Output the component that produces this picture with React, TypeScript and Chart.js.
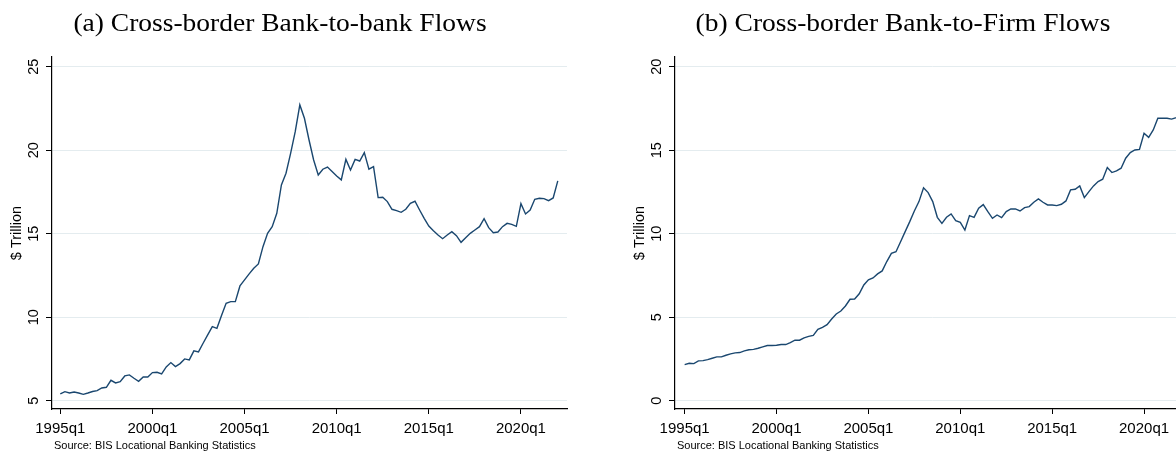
import React, { useEffect, useRef } from "react";
import { Chart, registerables } from "chart.js";

Chart.register(...registerables);

// Quarter categories 1995q1 .. 2022q1
const quarterLabels: string[] = [];
for (let y = 1995; y <= 2022; y++) {
  for (let q = 1; q <= 4; q++) {
    if (y === 2022 && q > 1) break;
    quarterLabels.push(`${y}q${q}`);
  }
}

const xTickLabels = ["1995q1", "2000q1", "2005q1", "2010q1", "2015q1", "2020q1"];

// (a) Cross-border bank-to-bank claims, $ trillion
const bankToBank = [
  5.40, 5.54, 5.46, 5.52, 5.46, 5.38, 5.46, 5.55, 5.60, 5.76,
  5.80, 6.22, 6.06, 6.14, 6.48, 6.54, 6.34, 6.16, 6.42, 6.42,
  6.68, 6.70, 6.60, 7.02, 7.28, 7.04, 7.22, 7.50, 7.44, 7.98,
  7.92, 8.44, 8.94, 9.43, 9.33, 10.10, 10.83, 10.93, 10.93, 11.87,
  12.23, 12.59, 12.93, 13.19, 14.22, 15.02, 15.42, 16.22, 17.92, 18.62,
  19.81, 21.11, 22.71, 21.91, 20.61, 19.41, 18.51, 18.86, 18.99, 18.72,
  18.45, 18.22, 19.45, 18.81, 19.45, 19.35, 19.85, 18.86, 19.01, 17.16,
  17.18, 16.92, 16.46, 16.38, 16.28, 16.46, 16.82, 16.94, 16.42, 15.92,
  15.46, 15.18, 14.92, 14.70, 14.92, 15.12, 14.88, 14.48, 14.76, 15.02,
  15.22, 15.42, 15.90, 15.36, 15.06, 15.10, 15.42, 15.62, 15.56, 15.44,
  16.80, 16.18, 16.42, 17.06, 17.12, 17.10, 16.98, 17.14, 18.16,
];

// (b) Cross-border bank-to-firm claims, $ trillion
const bankToFirm = [
  2.16, 2.24, 2.22, 2.38, 2.40, 2.46, 2.54, 2.62, 2.62, 2.72,
  2.80, 2.86, 2.88, 2.98, 3.05, 3.07, 3.14, 3.22, 3.30, 3.30,
  3.32, 3.36, 3.36, 3.48, 3.62, 3.62, 3.76, 3.85, 3.91, 4.27,
  4.39, 4.55, 4.89, 5.19, 5.37, 5.67, 6.07, 6.09, 6.40, 6.93,
  7.24, 7.35, 7.59, 7.77, 8.33, 8.82, 8.92, 9.52, 10.12, 10.72,
  11.36, 11.92, 12.75, 12.46, 11.92, 10.98, 10.62, 10.98, 11.18, 10.78,
  10.68, 10.22, 11.08, 10.98, 11.52, 11.74, 11.32, 10.92, 11.12, 10.96,
  11.32, 11.48, 11.48, 11.36, 11.56, 11.62, 11.88, 12.08, 11.88, 11.72,
  11.72, 11.68, 11.76, 11.96, 12.62, 12.66, 12.86, 12.16, 12.52, 12.86,
  13.12, 13.26, 13.96, 13.66, 13.76, 13.92, 14.52, 14.86, 15.01, 15.05,
  16.01, 15.77, 16.21, 16.91, 16.91, 16.91, 16.86, 16.95, 17.10,
];

const yTicksBank = [5, 10, 15, 20, 25];
const yTicksFirm = [0, 5, 10, 15, 20];

const titleA = "(a) Cross-border Bank-to-bank Flows";
const titleB = "(b) Cross-border Bank-to-Firm Flows";
const yAxisTitle = "$ Trillion";
const sourceNote = "Source: BIS Locational Banking Statistics";

const LINE_COLOR = "#1a476f";
const GRID_COLOR = "#e4ecef";
const SANS = "'Liberation Sans', Arial, sans-serif";

type PanelProps = {
  values: number[];
  yTicks: number[];
  yMin: number;
  yMax: number;
  xMin: number;
  xMax: number;
  left: number;
};

function Panel({ values, yTicks, yMin, yMax, xMin, xMax, left }: PanelProps) {
  const ref = useRef<HTMLCanvasElement>(null);
  useEffect(() => {
    if (!ref.current) return;
    const chart = new Chart(ref.current, {
      type: "line",
      data: {
        datasets: [
          {
            data: values.map((v, i) => ({ x: i, y: v })),
            borderColor: LINE_COLOR,
            borderWidth: 1.4,
            pointRadius: 0,
            tension: 0,
            fill: false,
          },
        ],
      },
      options: {
        animation: false,
        responsive: false,
        layout: { padding: { top: 57, right: 23, left: 0, bottom: 0 } },
        plugins: {
          legend: { display: false },
          tooltip: { enabled: false },
          title: { display: false },
        },
        scales: {
          x: {
            type: "linear",
            min: xMin,
            max: xMax,
            afterBuildTicks: (s: any) => {
              s.ticks = xTickLabels.map((l) => ({ value: quarterLabels.indexOf(l) }));
            },
            afterFit: (s: any) => {
              s.height = 44;
            },
            ticks: {
              callback: (v: any) => quarterLabels[Number(v)],
              font: { family: SANS, size: 15 },
              color: "#000",
              padding: 6,
              maxRotation: 0,
              minRotation: 0,
              autoSkip: false,
            },
            grid: {
              drawOnChartArea: false,
              drawTicks: true,
              tickLength: 5,
              tickColor: "#000",
              lineWidth: 1,
            },
            border: { display: true, color: "#000", width: 1.2 },
          },
          y: {
            type: "linear",
            min: yMin,
            max: yMax,
            afterBuildTicks: (s: any) => {
              s.ticks = yTicks.map((v) => ({ value: v }));
            },
            afterFit: (s: any) => {
              s.width = 52;
            },
            ticks: {
              minRotation: 90,
              maxRotation: 90,
              crossAlign: "center",
              padding: 4,
              font: { family: SANS, size: 14.5 },
              color: "#000",
            },
            grid: {
              color: GRID_COLOR,
              lineWidth: 1,
              drawTicks: true,
              tickLength: 6,
              tickColor: "#000",
            },
            border: { display: true, color: "#000", width: 1.2 },
            title: {
              display: true,
              text: yAxisTitle,
              font: { family: SANS, size: 14.5 },
              color: "#000",
              padding: { top: 8, bottom: 0 },
            },
          },
        },
      } as any,
    });
    return () => chart.destroy();
  }, []);
  return (
    <canvas
      ref={ref}
      width={590}
      height={453}
      style={{ position: "absolute", left, top: 0, width: 590, height: 453 }}
    />
  );
}

const titleStyle = (cx: number): React.CSSProperties => ({
  position: "absolute",
  left: cx - 300,
  width: 600,
  top: 10,
  textAlign: "center",
  fontFamily: "'Liberation Serif', 'DejaVu Serif', serif",
  fontSize: 25,
  lineHeight: "25px",
  color: "#000",
  whiteSpace: "nowrap",
  transform: "scaleX(1.1)",
  transformOrigin: "50% 50%",
});

const noteStyle = (x: number): React.CSSProperties => ({
  position: "absolute",
  left: x,
  top: 440,
  fontFamily: SANS,
  fontSize: 11,
  lineHeight: "11px",
  color: "#000",
  whiteSpace: "nowrap",
});

export default function App() {
  return (
    <div
      style={{
        position: "fixed",
        left: 0,
        top: 0,
        width: 1176,
        height: 453,
        overflow: "hidden",
        background: "#fff",
      }}
    >
      <Panel values={bankToBank} yTicks={yTicksBank} yMin={4.5} yMax={25.58} xMin={-1.8} xMax={110} left={0} />
      <Panel values={bankToFirm} yTicks={yTicksFirm} yMin={-0.5} yMax={20.58} xMin={-2.1} xMax={110} left={623} />
      <div style={titleStyle(280)}>{titleA}</div>
      <div style={titleStyle(903)}>{titleB}</div>
      <div style={noteStyle(54)}>{sourceNote}</div>
      <div style={noteStyle(677)}>{sourceNote}</div>
    </div>
  );
}
